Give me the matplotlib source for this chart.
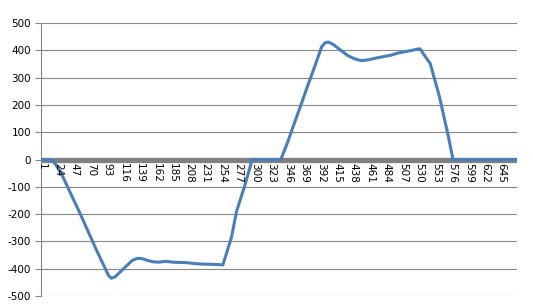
import matplotlib
matplotlib.use("Agg")
import matplotlib.pyplot as plt

# Data (category index, value)
categories = [1, 12, 18, 24, 31, 55, 78, 95, 99, 104, 112, 120, 128, 135, 142, 150,
              158, 166, 175, 184, 195, 205, 215, 225, 240, 255, 267, 274, 286, 296,
              300, 336, 345, 355, 365, 375, 385, 393, 398, 403, 410, 420, 430, 440,
              449, 458, 470, 480, 490, 500, 510, 520, 528, 531, 535, 545, 558, 570,
              577, 666]
values = [0, 0, -8, -30, -63, -197, -331, -425, -435, -430, -410, -390, -370, -362, -363, -370,
          -375, -376, -373, -376, -377, -378, -381, -383, -384, -386, -285, -191, -92, 0,
          0, 0, 59, 133, 206, 280, 352, 412, 428, 430, 420, 400, 380, 368,
          362, 365, 372, 377, 382, 390, 395, 400, 405, 405, 389, 352, 230, 90,
          0, 0]
x_tick_labels = [str(v) for v in range(1, 666, 23)]
y_ticks = [-500, -400, -300, -200, -100, 0, 100, 200, 300, 400, 500]

fig = plt.figure(figsize=(5.33, 3.04), dpi=100)
ax = fig.add_axes([41 / 533, 1 - 296 / 304, 476 / 533, 273 / 304])

ax.set_xlim(0.5, 666.5)
ax.set_ylim(-500, 500)

grid_c = "#868686"
ax.set_yticks(y_ticks)
ax.set_yticklabels([str(v) for v in y_ticks], fontsize=7.5)
for v in y_ticks:
    if v != 0:
        ax.axhline(v, color=grid_c, lw=0.8, zorder=1)

# thick zero axis
ax.axhline(0, color="#808080", lw=3.8, zorder=2, solid_capstyle="butt")

ax.plot(categories, values, color="#4A7EBB", lw=2.2, zorder=3,
        solid_joinstyle="round", solid_capstyle="round")

for s in ["top", "right", "bottom"]:
    ax.spines[s].set_visible(False)
ax.spines["left"].set_color(grid_c)
ax.spines["left"].set_linewidth(0.8)
ax.tick_params(axis="y", length=4, width=0.8, color=grid_c, pad=3)

ax.set_xticks([])
for lab in x_tick_labels:
    ax.text(int(lab), -12, lab, rotation=-90, ha="center", va="top",
            fontsize=7.5, zorder=4)

fig.savefig("out.png", dpi=100)
